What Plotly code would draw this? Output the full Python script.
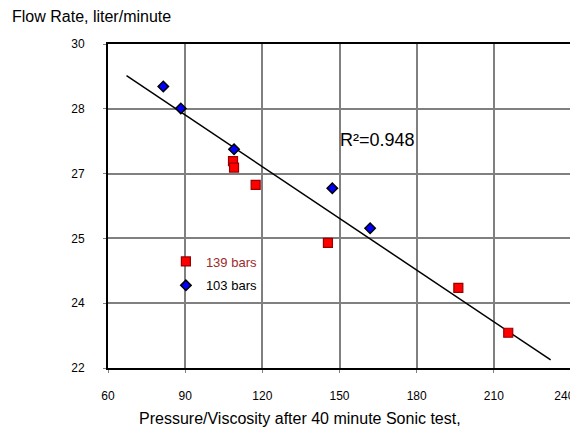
import plotly.graph_objects as go

# 139 bars series (red squares)
bars139_x = [108.6, 109.0, 117.4, 145.5, 196.2, 215.6]
bars139_y = [27.11, 26.95, 26.52, 25.09, 23.98, 22.87]

# 103 bars series (blue diamonds)
bars103_x = [81.5, 88.3, 109.0, 147.2, 161.9]
bars103_y = [28.95, 28.41, 27.40, 26.44, 25.45]

# linear trend line
trend_x = [67.2, 232.1]
trend_y = [29.22, 22.20]

x_ticks = [60, 90, 120, 150, 180, 210, 240]
# last label padded so it is not cropped by the window edge
x_tick_text = ["60", "90", "120", "150", "180", "210", "240\u00a0\u00a0\u00a0\u00a0"]
y_ticks = [22, 23.6, 25.2, 26.8, 28.4, 30]
y_tick_text = ["22", "24", "25", "27", "28", "30"]

font = "Liberation Sans, Arial, sans-serif"

fig = go.Figure()

fig.add_trace(go.Scatter(
    x=trend_x, y=trend_y, mode="lines",
    line=dict(color="black", width=1.5),
    showlegend=False, hoverinfo="skip"))

fig.add_trace(go.Scatter(
    x=bars139_x, y=bars139_y, mode="markers", legendgroup="a",
    name="<span style='color:#9c2a2a'>139 bars</span>",
    marker=dict(symbol="square", size=9, color="#ff0000",
                line=dict(color="#990000", width=1.2))))

fig.add_trace(go.Scatter(
    x=bars103_x, y=bars103_y, mode="markers", legendgroup="b",
    name="103 bars",
    marker=dict(symbol="diamond", size=8, color="#0000ff",
                line=dict(color="black", width=1.5))))

fig.add_annotation(x=164.7, y=27.63, text="R²=0.948", showarrow=False,
                   font=dict(size=18, color="black", family=font))

# axis titles placed as in the original
fig.add_annotation(xref="paper", yref="paper", x=-0.212, y=1.086,
                   xanchor="left", yanchor="middle",
                   text="Flow Rate, liter/minute", showarrow=False,
                   font=dict(size=16, color="black", family=font))
fig.add_annotation(xref="paper", yref="paper", x=0.415, y=-0.157,
                   xanchor="center", yanchor="middle",
                   text="Pressure/Viscosity after 40 minute Sonic test,",
                   showarrow=False,
                   font=dict(size=16, color="black", family=font))

fig.update_xaxes(range=[60, 240], tickvals=x_ticks, ticktext=x_tick_text,
                 showgrid=True, gridcolor="#808080", gridwidth=1.5,
                 showline=True, linecolor="black", linewidth=2, mirror=True,
                 ticks="outside", ticklen=3, tickcolor="#808080",
                 ticklabelstandoff=13, ticklabeloverflow="allow",
                 automargin=False, zeroline=False,
                 tickfont=dict(size=12, color="black", family=font))

fig.update_yaxes(range=[22, 30], tickvals=y_ticks, ticktext=y_tick_text,
                 showgrid=True, gridcolor="#808080", gridwidth=1.5,
                 showline=True, linecolor="black", linewidth=2, mirror=True,
                 ticks="outside", ticklen=3, tickcolor="#808080",
                 ticklabelstandoff=16, automargin=False, zeroline=False,
                 tickfont=dict(size=12, color="black", family=font))

# page body has an 8px margin; the window crops the right edge like the original
fig.update_layout(
    width=578, height=423,
    margin=dict(l=100, r=15, t=36, b=63, autoexpand=False),
    paper_bgcolor="white", plot_bgcolor="white",
    font=dict(family=font, color="black"),
    legend=dict(x=0.125, y=0.375, xanchor="left", yanchor="top",
                bgcolor="rgba(0,0,0,0)", font=dict(size=13, family=font),
                itemwidth=30, tracegroupgap=4),
)

fig.write_html("out.html")
